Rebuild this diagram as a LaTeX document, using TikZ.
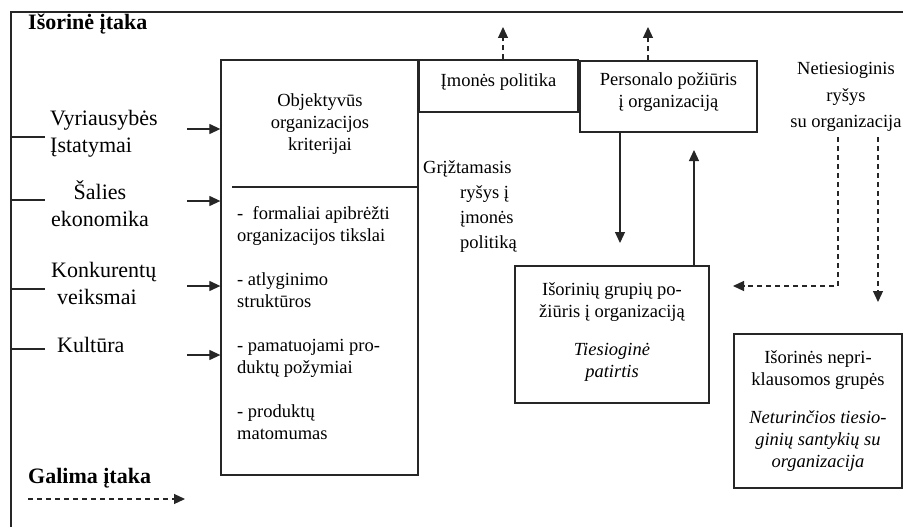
\documentclass[tikz,border=0pt]{standalone}
\usepackage{fontspec}
\setmainfont{Liberation Serif}
\usetikzlibrary{arrows.meta}
\begin{document}
\begin{tikzpicture}[x=1pt,y=-1pt,
  ln/.style={draw=black!85,line width=1.3pt},
  box/.style={ln,inner sep=0pt,rectangle},
  txt/.style={font=\fontsize{18.5}{22}\selectfont,align=center,inner sep=0pt},
  big/.style={font=\fontsize{22}{27}\selectfont,inner sep=0pt},
  hd/.style={font=\fontsize{22}{27}\selectfont\bfseries,inner sep=0pt,anchor=west},
  arr/.style={ln,line width=1.2pt,-{Triangle[length=11pt,width=10pt]}},
  darr/.style={arr,dash pattern=on 5pt off 4pt}]
\useasboundingbox (0,0) rectangle (903,527);
\fill[white] (0,0) rectangle (903,527);

% outer frame
\coordinate (frTL) at (11,12);
\draw[ln] (903,12) -- (frTL) -- (11,527);
\node[hd] (outer) at (28,24) {Išorinė įtaka};

% left labels
\node[big,align=left,anchor=west] (gov) at (50,134) {Vyriausybės\\Įstatymai};
\node[big,align=center] (econ) at (100,204) {Šalies\\ekonomika};
\node[big,align=left,anchor=west] (comp) at (51,283) {Konkurentų\\\hspace*{6pt}veiksmai};
\node[big,anchor=west] (cult) at (57,345) {Kultūra};
\foreach \y/\n in {137/a,200/b,289/c,349/d}{
  \coordinate (t\n) at (45,\y);
  \draw[ln] (frTL |- t\n) -- (t\n);
}

% main criteria box
\node[box,minimum width=197pt,minimum height=415pt] (crit) at (319.5,267.5) {};
\node[txt] (crittitle) at (320,124) {Objektyvūs\\organizacijos\\kriterijai};
\coordinate (divL) at (232,187);
\draw[ln] (divL) -- (divL -| crit.east);
\node[txt,align=left,anchor=north west] (critlist) at (237,206)
 {-~~formaliai apibrėžti\\organizacijos tikslai\\[22pt]
  - atlyginimo\\struktūros\\[22pt]
  - pamatuojami pro-\\duktų požymiai\\[22pt]
  - produktų\\matomumas};
\foreach \y/\n in {129/a,201/b,286/c,355/d}{
  \coordinate (s\n) at (187,\y);
  \draw[arr] (s\n) -- (s\n -| crit.west);
}

% policy boxes
\node[box,minimum width=159pt,minimum height=52pt] (policy) at (498.5,86) {};
\node[txt] (policytxt) at (498.5,82) {Įmonės politika};
\node[box,minimum width=177pt,minimum height=71pt] (staff) at (668.5,96.5) {};
\node[txt] (stafftxt) at (668.5,92) {Personalo požiūris\\į organizaciją};
\coordinate (pu) at (503,27);
\draw[darr] (pu |- policy.north) -- (pu);
\coordinate (su) at (648,27);
\draw[darr] (su |- staff.north) -- (su);

% feedback text
\node[txt,align=left,anchor=west,font=\fontsize{18.5}{25}\selectfont] (fb) at (423,207)
 {Grįžtamasis\\\hspace*{37pt}ryšys į\\\hspace*{37pt}įmonės\\\hspace*{37pt}politiką};

% external groups box
\node[box,minimum width=194pt,minimum height=137pt] (ext) at (612,334.5) {};
\node[txt] (exttxt) at (612,332.5) {Išorinių grupių po-\\žiūris į organizaciją\\[16pt]\textit{Tiesioginė}\\\textit{patirtis}};
\coordinate (dn) at (620,243);
\draw[arr] (dn |- staff.south) -- (dn);
\coordinate (up) at (694,150);
\draw[arr] (up |- ext.north) -- (up);

% indirect relation
\node[txt,font=\fontsize{18.5}{26.5}\selectfont] (ind) at (846,97) {Netiesioginis\\ryšys\\su organizacija};
\coordinate (i1) at (838,137);
\coordinate (i1b) at (838,286);
\coordinate (i1e) at (733,286);
\draw[darr] (i1) -- (i1b) -- (i1e);
\coordinate (i2) at (878,137);
\coordinate (i2e) at (878,302);
\draw[darr] (i2) -- (i2e);

% independent groups box
\node[box,minimum width=168pt,minimum height=154pt] (indep) at (818,411) {};
\node[txt] (indeptxt) at (818,411.5) {Išorinės nepri-\\klausomos grupės\\[16pt]\textit{Neturinčios tiesio-}\\\textit{ginių santykių su}\\\textit{organizacija}};

% legend
\node[hd] (legend) at (28,478) {Galima įtaka};
\coordinate (l1) at (28,499);
\coordinate (l2) at (185,499);
\draw[darr] (l1) -- (l2);
\end{tikzpicture}
\end{document}
